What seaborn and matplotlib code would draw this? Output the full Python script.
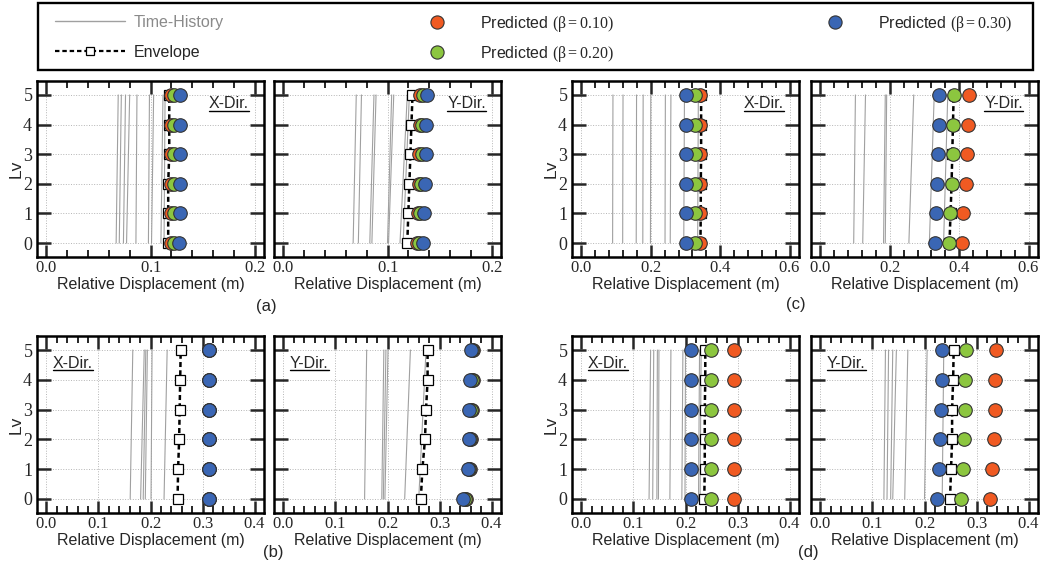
import numpy as np
import pandas as pd
import matplotlib
matplotlib.use("Agg")
import matplotlib.pyplot as plt
import seaborn as sns
from matplotlib.lines import Line2D
from matplotlib.patches import Rectangle
from matplotlib.ticker import MultipleLocator

# ---------------- data ----------------
levels = [0, 1, 2, 3, 4, 5]

# (a) X-Dir.
a_x_th_bot = [0.067, 0.070, 0.074, 0.077, 0.086, 0.098, 0.101, 0.110, 0.113]
a_x_th_top = [0.069, 0.072, 0.076, 0.080, 0.087, 0.099, 0.103, 0.112, 0.114]
a_x_env = [0.117, 0.117, 0.117, 0.118, 0.118, 0.118]
a_x_p10 = [0.120, 0.120, 0.120, 0.120, 0.120, 0.120]
a_x_p20 = [0.123, 0.123, 0.123, 0.123, 0.123, 0.123]
a_x_p30 = [0.127, 0.128, 0.128, 0.128, 0.128, 0.128]
# (a) Y-Dir.
a_y_th_bot = [0.067, 0.072, 0.083, 0.085, 0.100, 0.101, 0.112, 0.115]
a_y_th_top = [0.070, 0.075, 0.087, 0.089, 0.104, 0.106, 0.119, 0.121]
a_y_env = [0.119, 0.120, 0.121, 0.122, 0.123, 0.124]
a_y_p10 = [0.128, 0.129, 0.130, 0.130, 0.131, 0.131]
a_y_p20 = [0.130, 0.131, 0.132, 0.133, 0.133, 0.134]
a_y_p30 = [0.134, 0.135, 0.136, 0.137, 0.137, 0.138]
# (c) X-Dir.
c_x_th_bot = [0.090, 0.119, 0.158, 0.177, 0.199, 0.241, 0.256, 0.295, 0.335]
c_x_th_top = [0.091, 0.120, 0.159, 0.178, 0.200, 0.242, 0.258, 0.297, 0.337]
c_x_env = [0.343, 0.344, 0.344, 0.345, 0.345, 0.345]
c_x_p10 = [0.342, 0.342, 0.342, 0.342, 0.342, 0.342]
c_x_p20 = [0.326, 0.326, 0.326, 0.326, 0.326, 0.326]
c_x_p30 = [0.300, 0.300, 0.300, 0.300, 0.300, 0.300]
# (c) Y-Dir.
c_y_th_bot = [0.096, 0.122, 0.182, 0.187, 0.255, 0.314, 0.355]
c_y_th_top = [0.101, 0.130, 0.187, 0.191, 0.269, 0.328, 0.367]
c_y_env = [0.372, 0.375, 0.378, 0.380, 0.382, 0.384]
c_y_p10 = [0.409, 0.412, 0.420, 0.423, 0.426, 0.427]
c_y_p20 = [0.370, 0.374, 0.378, 0.381, 0.383, 0.384]
c_y_p30 = [0.330, 0.333, 0.336, 0.339, 0.341, 0.343]
# (b) X-Dir.
b_x_th_bot = [0.161, 0.181, 0.186, 0.190, 0.201, 0.226]
b_x_th_top = [0.166, 0.188, 0.191, 0.194, 0.203, 0.232]
b_x_env = [0.252, 0.253, 0.255, 0.256, 0.257, 0.258]
b_x_p10 = [0.313, 0.313, 0.313, 0.313, 0.313, 0.313]
b_x_p20 = [0.313, 0.313, 0.313, 0.313, 0.313, 0.313]
b_x_p30 = [0.313, 0.313, 0.313, 0.313, 0.313, 0.313]
# (b) Y-Dir.
b_y_th_bot = [0.156, 0.189, 0.192, 0.195, 0.233, 0.260]
b_y_th_top = [0.160, 0.193, 0.197, 0.201, 0.244, 0.274]
b_y_env = [0.264, 0.267, 0.272, 0.274, 0.277, 0.277]
b_y_p10 = [0.350, 0.358, 0.361, 0.362, 0.364, 0.365]
b_y_p20 = [0.348, 0.356, 0.359, 0.360, 0.362, 0.363]
b_y_p30 = [0.345, 0.354, 0.356, 0.357, 0.359, 0.361]
# (d) X-Dir.
d_x_th_bot = [0.130, 0.137, 0.145, 0.148, 0.170, 0.193, 0.199, 0.225, 0.228]
d_x_th_top = [0.133, 0.139, 0.146, 0.149, 0.172, 0.195, 0.200, 0.227, 0.230]
d_x_env = [0.236, 0.237, 0.237, 0.237, 0.238, 0.238]
d_x_p10 = [0.294, 0.294, 0.294, 0.294, 0.294, 0.294]
d_x_p20 = [0.249, 0.249, 0.249, 0.249, 0.249, 0.249]
d_x_p30 = [0.211, 0.211, 0.211, 0.211, 0.211, 0.211]
# (d) Y-Dir.
d_y_th_bot = [0.122, 0.128, 0.135, 0.139, 0.162, 0.200, 0.234]
d_y_th_top = [0.125, 0.131, 0.139, 0.146, 0.168, 0.205, 0.237]
d_y_env = [0.249, 0.251, 0.253, 0.253, 0.255, 0.256]
d_y_p10 = [0.325, 0.329, 0.333, 0.335, 0.336, 0.338]
d_y_p20 = [0.270, 0.273, 0.275, 0.277, 0.278, 0.279]
d_y_p30 = [0.224, 0.227, 0.229, 0.231, 0.233, 0.234]

x_ticks = {"a": [0.0, 0.1, 0.2], "c": [0.0, 0.2, 0.4, 0.6],
           "b": [0.0, 0.1, 0.2, 0.3, 0.4], "d": [0.0, 0.1, 0.2, 0.3, 0.4]}
x_ticklabels = {"a": ["0.0", "0.1", "0.2"], "c": ["0.0", "0.2", "0.4", "0.6"],
                "b": ["0.0", "0.1", "0.2", "0.3", "0.4"],
                "d": ["0.0", "0.1", "0.2", "0.3", "0.4"]}
y_ticklabels = ["0", "1", "2", "3", "4", "5"]
dir_labels = ["X-Dir.", "Y-Dir."]
label_th = "Time-History"
label_env = "Envelope"
label_p10 = r"Predicted $\mathrm{(β = 0.10)}$"
label_p20 = r"Predicted $\mathrm{(β = 0.20)}$"
label_p30 = r"Predicted $\mathrm{(β = 0.30)}$"

# ---------------- style ----------------
sns.set_style("ticks")
plt.rcParams["font.family"] = ["Liberation Sans", "DejaVu Sans"]
plt.rcParams["mathtext.fontset"] = "custom"
plt.rcParams["mathtext.rm"] = "Liberation Serif"
plt.rcParams["mathtext.it"] = "Liberation Serif:italic"
plt.rcParams["mathtext.bf"] = "Liberation Serif:bold"


def serif(s):
    return r"$\mathrm{" + s + "}$"


C10 = "#f05a22"
C20 = "#8cc63f"
C30 = "#3a66b4"
TH_COLOR = "#a0a0a0"
EDGE = "#333333"
ENV_DASH = (0, (2.0, 1.3))

W, H = 1047, 573
fig = plt.figure(figsize=(W / 100, H / 100), dpi=100)

col_left = [37, 274, 572, 811]
ax_w = 227
rows = {"top": (81, 257), "bot": (336, 513)}

panels = [
    ("a", 0, "top", 0, a_x_th_bot, a_x_th_top, a_x_env, a_x_p10, a_x_p20, a_x_p30),
    ("a", 1, "top", 1, a_y_th_bot, a_y_th_top, a_y_env, a_y_p10, a_y_p20, a_y_p30),
    ("c", 0, "top", 2, c_x_th_bot, c_x_th_top, c_x_env, c_x_p10, c_x_p20, c_x_p30),
    ("c", 1, "top", 3, c_y_th_bot, c_y_th_top, c_y_env, c_y_p10, c_y_p20, c_y_p30),
    ("b", 0, "bot", 0, b_x_th_bot, b_x_th_top, b_x_env, b_x_p10, b_x_p20, b_x_p30),
    ("b", 1, "bot", 1, b_y_th_bot, b_y_th_top, b_y_env, b_y_p10, b_y_p20, b_y_p30),
    ("d", 0, "bot", 2, d_x_th_bot, d_x_th_top, d_x_env, d_x_p10, d_x_p20, d_x_p30),
    ("d", 1, "bot", 3, d_y_th_bot, d_y_th_top, d_y_env, d_y_p10, d_y_p20, d_y_p30),
]

dir_texts = []
for key, d, row, col, th_bot, th_top, env, p10, p20, p30 in panels:
    top, bot = rows[row]
    ax = fig.add_axes([col_left[col] / W, 1 - bot / H, ax_w / W, (bot - top) / H])
    ticks = x_ticks[key]
    R = ticks[-1]

    # time-history traces
    for xb, xt in zip(th_bot, th_top):
        sns.lineplot(x=[xb, xt], y=[levels[0], levels[-1]], sort=False, estimator=None,
                     color=TH_COLOR, lw=0.8, ax=ax, zorder=2)
    # envelope
    sns.lineplot(x=env, y=levels, sort=False, estimator=None, color="black", lw=1.8,
                 linestyle=ENV_DASH, marker="s", markersize=6.5,
                 markerfacecolor="white", markeredgecolor="black", markeredgewidth=0.9,
                 ax=ax, zorder=3)
    # predictions
    for vals, c, z in [(p10, C10, 4), (p20, C20, 5), (p30, C30, 6)]:
        sns.scatterplot(x=vals, y=levels, color=c, s=95, edgecolor=EDGE, linewidth=0.8,
                        ax=ax, zorder=z, legend=False)

    ax.set_xlim(-0.045 * R, 1.045 * R)
    ax.set_ylim(-0.47, 5.47)
    ax.set_xticks(ticks)
    ax.set_xticklabels([serif(s) for s in x_ticklabels[key]], fontsize=12)
    ax.xaxis.set_minor_locator(MultipleLocator(0.04 if R > 0.5 else 0.02))
    ax.set_yticks(levels)
    if d == 0:
        ax.set_yticklabels([serif(s) for s in y_ticklabels], fontsize=13)
    else:
        ax.set_yticklabels([])
    ax.grid(True, which="major", ls=":", color="#b5b5b5", lw=0.7)
    ax.set_axisbelow(True)
    for s in ax.spines.values():
        s.set_linewidth(1.8)
        s.set_color("black")
    ax.tick_params(which="major", axis="x", direction="in", top=True, bottom=True,
                   length=9, width=1.8, pad=2.5)
    ax.tick_params(which="minor", axis="x", direction="in", top=True, bottom=True,
                   length=5, width=1.4)
    ax.tick_params(which="major", axis="y", direction="in", left=True, right=True,
                   length=10, width=1.8, pad=3)
    ax.set_xlabel("Relative Displacement (m)", fontsize=11.5, labelpad=1)
    if d == 0:
        ax.set_ylabel("Lv", fontsize=12.5)
        ax.yaxis.set_label_coords(-0.058, 0.5)
    else:
        ax.set_ylabel("")

    if row == "top":
        t = ax.text(0.935, 0.845, dir_labels[d], transform=ax.transAxes, ha="right",
                    va="baseline", fontsize=11.5)
        dir_texts.append((ax, t, 0.832))
    else:
        t = ax.text(0.07, 0.82, dir_labels[d], transform=ax.transAxes, ha="left",
                    va="baseline", fontsize=11.5)
        dir_texts.append((ax, t, 0.806))

# subplot letters
fig.text(266 / W, 1 - 307 / H, "(a)", ha="center", va="center", fontsize=12)
fig.text(796 / W, 1 - 305 / H, "(c)", ha="center", va="center", fontsize=12)
fig.text(273 / W, 1 - 553 / H, "(b)", ha="center", va="center", fontsize=12)
fig.text(808 / W, 1 - 553 / H, "(d)", ha="center", va="center", fontsize=12)

# legend: outer frame + three frameless column legends
fig.add_artist(Rectangle((38 / W, 1 - 70 / H), 995 / W, 67 / H, transform=fig.transFigure,
                         fill=False, edgecolor="black", linewidth=1.7))
h_th = Line2D([], [], color=TH_COLOR, lw=1.0)
h_env = Line2D([], [], color="black", lw=1.6, ls=ENV_DASH, marker="s", ms=6,
               mfc="white", mec="black", mew=0.9)
h_10 = Line2D([], [], ls="none", marker="o", ms=9.5, mfc=C10, mec=EDGE, mew=0.8)
h_20 = Line2D([], [], ls="none", marker="o", ms=9.5, mfc=C20, mec=EDGE, mew=0.8)
h_30 = Line2D([], [], ls="none", marker="o", ms=9.5, mfc=C30, mec=EDGE, mew=0.8)

common = dict(fontsize=11.5, frameon=False, handlelength=4.4, handletextpad=0.5,
              borderpad=0, borderaxespad=0)
leg1 = fig.legend([h_th, h_env], [label_th, label_env], loc="upper left",
                  bbox_to_anchor=(55 / W, 1 - 15 / H), labelspacing=0.92, **common)
leg1.get_texts()[0].set_color("#8a8a8a")
leg2 = fig.legend([h_10, h_20], [label_p10, label_p20], loc="upper left",
                  bbox_to_anchor=(402 / W, 1 - 14 / H), labelspacing=0.6, **common)
leg3 = fig.legend([h_30], [label_p30], loc="upper left",
                  bbox_to_anchor=(800 / W, 1 - 14 / H), **common)

# underline direction labels
fig.canvas.draw()
renderer = fig.canvas.get_renderer()
for ax, t, uy in dir_texts:
    bb = t.get_window_extent(renderer=renderer)
    inv = ax.transAxes.inverted()
    (x0, _), (x1, _) = inv.transform([(bb.x0, bb.y0), (bb.x1, bb.y0)])
    ax.plot([x0, x1], [uy, uy], transform=ax.transAxes, color="black", lw=1.0,
            clip_on=False, zorder=7)

fig.savefig("out.png", dpi=100)
